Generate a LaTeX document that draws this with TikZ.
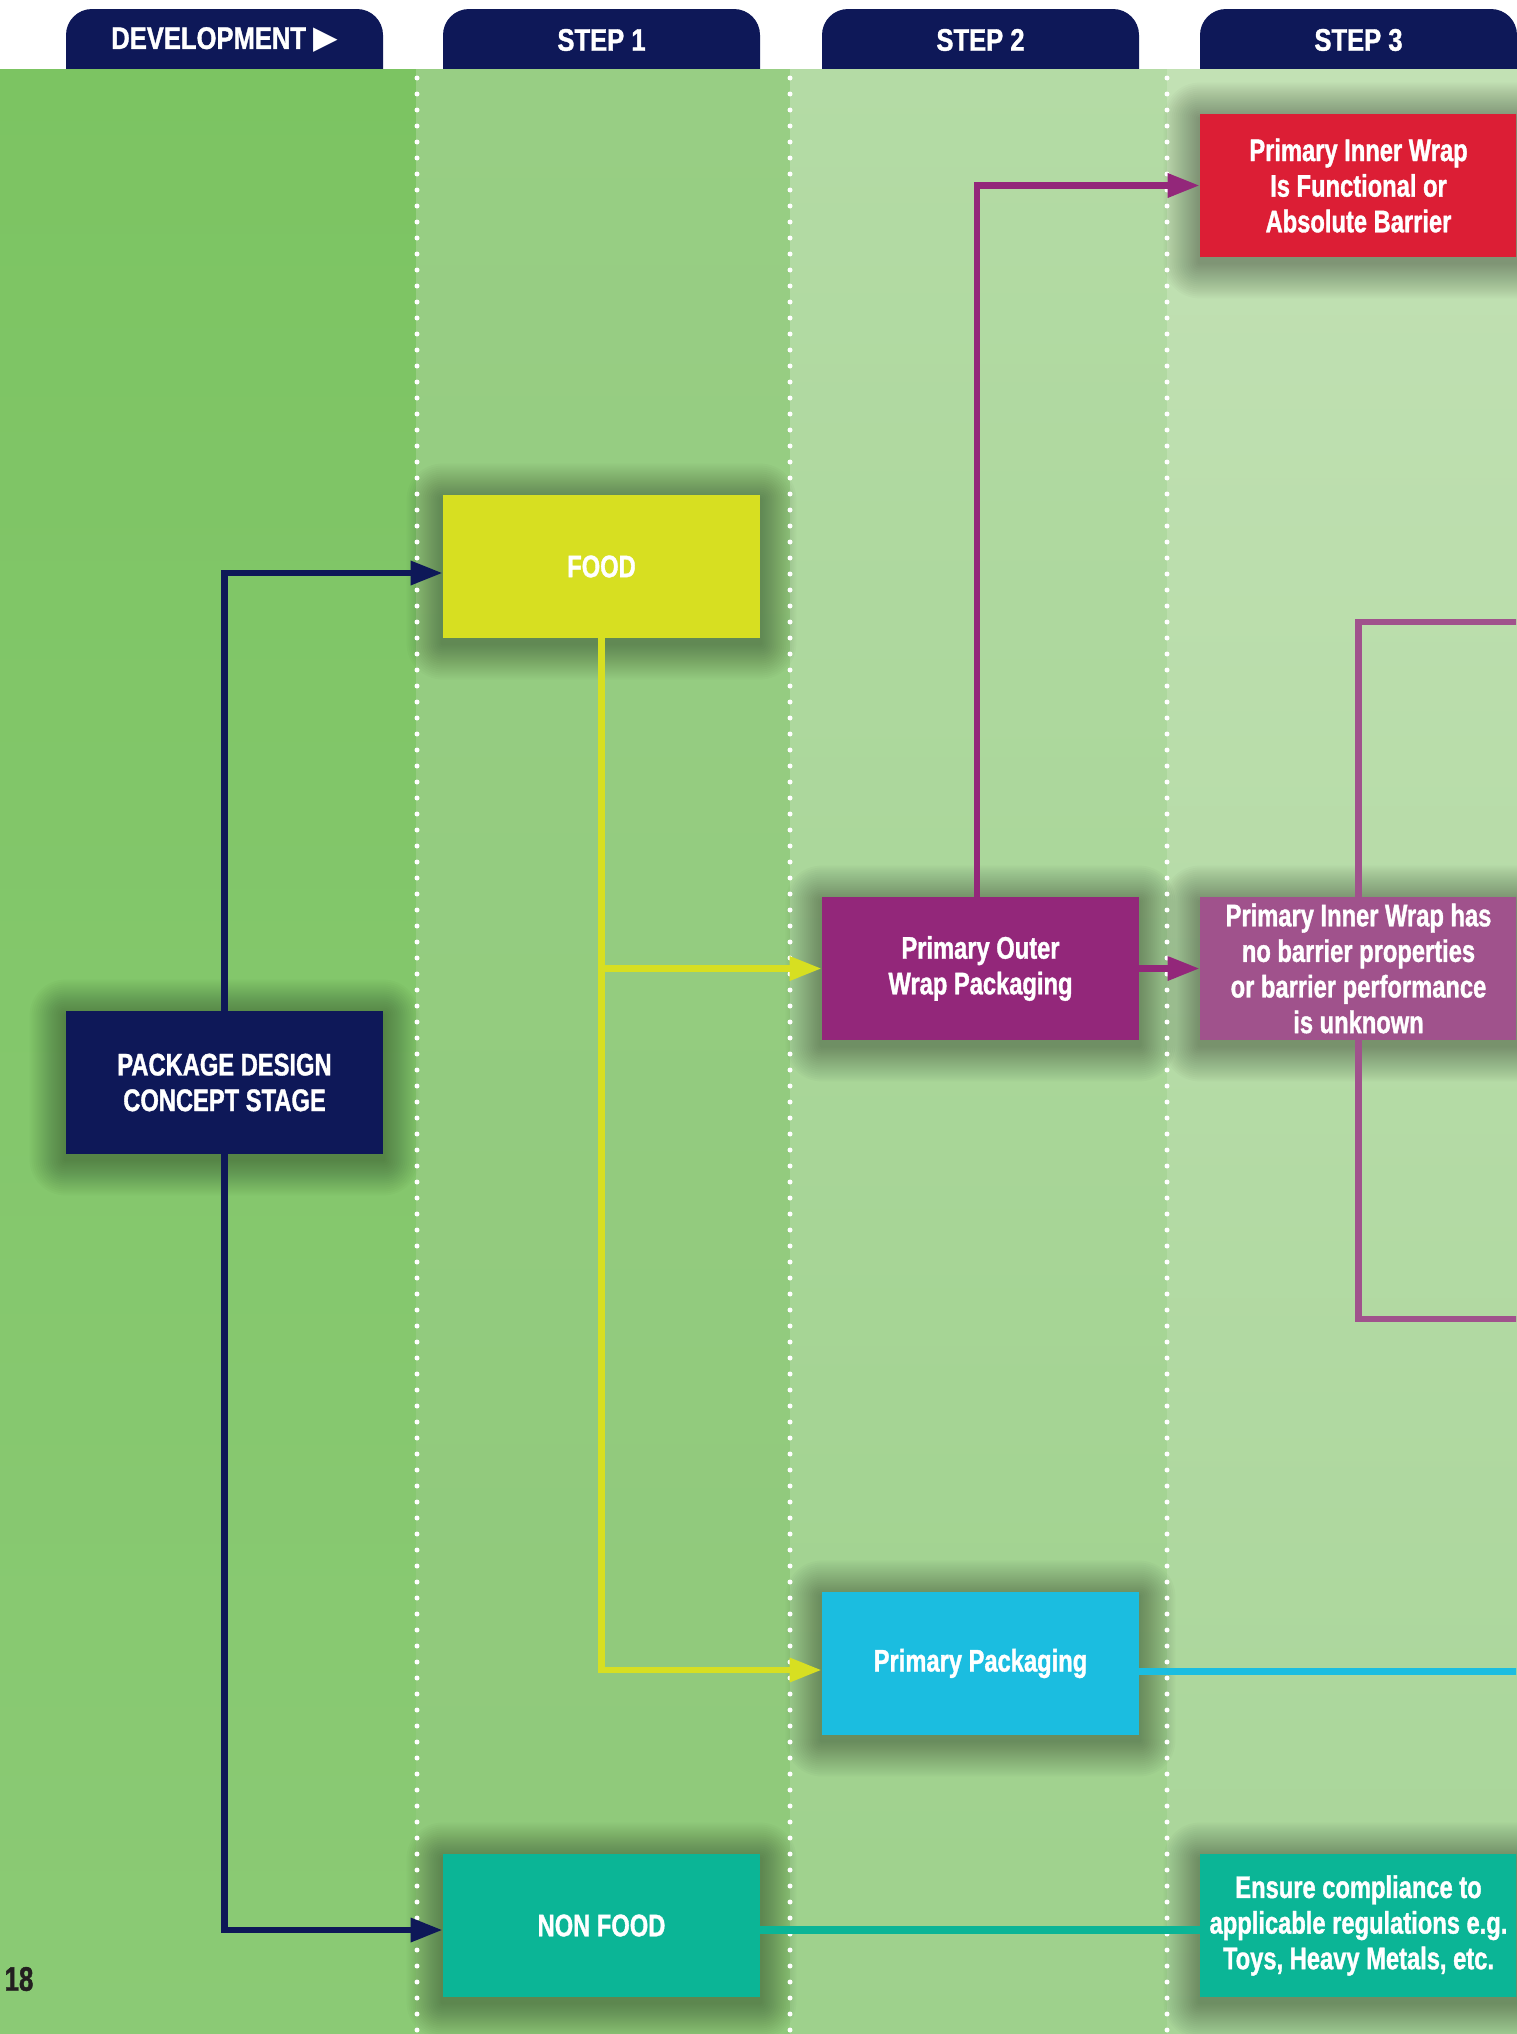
\documentclass[tikz,border=0pt]{standalone}
\usepackage{fontspec}
\newfontfamily\condfont{Liberation Sans}[FakeStretch=0.76, BoldFeatures={FakeBold=1.2}]
\newfontfamily\tabcondfont{Liberation Sans}[FakeStretch=0.82, BoldFeatures={FakeBold=1.2}]
\newfontfamily\symfont{DejaVu Sans}
\usetikzlibrary{arrows.meta,calc}

\definecolor{tabnavy}{HTML}{0E1858}
\definecolor{foodyellow}{HTML}{D7DF21}
\definecolor{nonfoodteal}{HTML}{0BB596}
\definecolor{outerpurple}{HTML}{93277A}
\definecolor{ppcyan}{HTML}{1BBDE0}
\definecolor{barrierred}{HTML}{DC1E35}
\definecolor{unknownmauve}{HTML}{A0528C}
\definecolor{pagegray}{HTML}{231F20}

\pgfdeclarelayer{back}
\pgfdeclarelayer{shadow}
\pgfsetlayers{back,shadow,main}

\def\boxfont{\condfont\bfseries\fontsize{15.6}{17.8}\selectfont}
\def\tabfont{\tabcondfont\bfseries\fontsize{15.6}{18}\selectfont}

\tikzset{
	box/.style={rectangle, minimum width=158.5pt, minimum height=71.5pt, inner sep=0pt,
		align=center, text=white, font=\boxfont},
	tabtext/.style={text=white, font=\tabfont, inner sep=0pt},
	dotsep/.style={white, line width=2.5pt, line cap=round, dash pattern=on 0pt off 8pt},
	flow/.style={line width=3.2pt, -{Triangle[length=16pt,width=11.5pt]}},
	plainflow/.style={line width=3.2pt}
}

\begin{document}
\begin{tikzpicture}[x=0.5pt, y=-0.5pt]
		%%%%% PAGE %%%%%
		\useasboundingbox (0,0) rectangle (1516,2034);
		\clip (0,0) rectangle (1516,2034);
		
		\begin{pgfonlayer}{back}
		\fill[white] (0,0) rectangle (1516,2034);
		
		%%%%% TABS %%%%%
		\fill[tabnavy, rounded corners=13pt] (66,9) rectangle (383,110);
		\fill[tabnavy, rounded corners=13pt] (443,9) rectangle (760,110);
		\fill[tabnavy, rounded corners=13pt] (822,9) rectangle (1139,110);
		\fill[tabnavy, rounded corners=13pt] (1200,9) rectangle (1517,110);
		
		%%%%% LANES %%%%%
		\shade[top color={rgb,255:red,124;green,196;blue,98}, bottom color={rgb,255:red,139;green,202;blue,117}] (0,69) rectangle (416,2034);
		\shade[top color={rgb,255:red,152;green,206;blue,132}, bottom color={rgb,255:red,143;green,201;blue,122}] (416,69) rectangle (790,2034);
		\shade[top color={rgb,255:red,180;green,219;blue,165}, bottom color={rgb,255:red,158;green,209;blue,140}] (790,69) rectangle (1167,2034);
		\shade[top color={rgb,255:red,194;green,225;blue,180}, bottom color={rgb,255:red,168;green,213;blue,152}] (1167,69) rectangle (1540,2034);
		\end{pgfonlayer}
		
		\draw[dotsep] (417,78) -- (417,2034);
		\draw[dotsep] (790,78) -- (790,2034);
		\draw[dotsep] (1167,78) -- (1167,2034);
		
		\node[tabtext] (devtab) at (224.5,40) {DEVELOPMENT {\symfont\fontsize{16}{16}\selectfont ▶}};
		\node[tabtext] (stepone) at (601.5,40) {STEP 1};
		\node[tabtext] (steptwo) at (980.5,40) {STEP 2};
		\node[tabtext] (stepthree) at (1358.5,40) {STEP 3};
		
		%%%%% BOXES %%%%%
		\node[box, fill=tabnavy] (concept) at (224.5,1082.5) {PACKAGE DESIGN\\CONCEPT STAGE};
		\node[box, fill=foodyellow] (food) at (601.5,566.5) {FOOD};
		\node[box, fill=nonfoodteal] (nonfood) at (601.5,1925.5) {NON FOOD};
		\node[box, fill=outerpurple] (outerwrap) at (980.5,968.5) {Primary Outer\\Wrap Packaging};
		\node[box, fill=ppcyan] (primary) at (980.5,1663.5) {Primary Packaging};
		\node[box, fill=barrierred] (barrier) at (1358.5,185.5) {Primary Inner Wrap\\Is Functional or\\Absolute Barrier};
		\node[box, fill=unknownmauve] (nobarrier) at (1358.5,968.5) {Primary Inner Wrap has\\no barrier properties\\or barrier performance\\is unknown};
		\node[box, fill=nonfoodteal] (ensure) at (1358.5,1925.5) {Ensure compliance to\\applicable regulations e.g.\\Toys, Heavy Metals, etc.};
		
		% soft shadows behind the boxes
		\begin{pgfonlayer}{shadow}
		\foreach \n in {concept,food,nonfood,outerwrap,primary,barrier,nobarrier,ensure}{
			\foreach \r [evaluate=\r as \rc using \r/2] in {2,4,...,36}{
				\fill[black, opacity=0.021, rounded corners=\rc pt] ($(\n.north west)+(-\r,-\r+5)$) rectangle ($(\n.south east)+(\r,\r+5)$);
			}
		}
		\end{pgfonlayer}
		
		\coordinate (wraptop) at (1520,622);
		\coordinate (wrapbot) at (1520,1319);
		\coordinate (primaryend) at (1520,1671);
		
		%%%%% CONNECTORS %%%%%
		\draw[flow, tabnavy] (concept.north) |- ([yshift=-3.25pt]food.west);
		\draw[flow, tabnavy] (concept.south) |- ([yshift=-2.25pt]nonfood.west);
		
		\draw[flow, foodyellow] (food.south) |- ([yshift=-3.25pt]primary.west);
		\draw[flow, foodyellow] (food.south |- outerwrap.west) -- (outerwrap.west);
		
		\draw[flow, outerpurple] ([xshift=-1.75pt]outerwrap.north) |- (barrier.west);
		\draw[flow, outerpurple] (outerwrap.east) -- (nobarrier.west);
		
		\draw[plainflow, unknownmauve] (nobarrier.north) |- (wraptop);
		\draw[plainflow, unknownmauve] (nobarrier.south) |- (wrapbot);
		
		\draw[plainflow, ppcyan, line width=3.5pt] ([yshift=-3.75pt]primary.east) -- (primaryend);
		\draw[plainflow, nonfoodteal, line width=4pt] ([yshift=-2.25pt]nonfood.east) -- ([yshift=-2.25pt]ensure.west);
		
		%%%%% PAGE NUMBER %%%%%
		\node[text=pagegray, font=\condfont\bfseries\fontsize{17}{17}\selectfont, inner sep=0pt] (pagenum) at (19,1979) {18};
	\end{tikzpicture}
\end{document}
